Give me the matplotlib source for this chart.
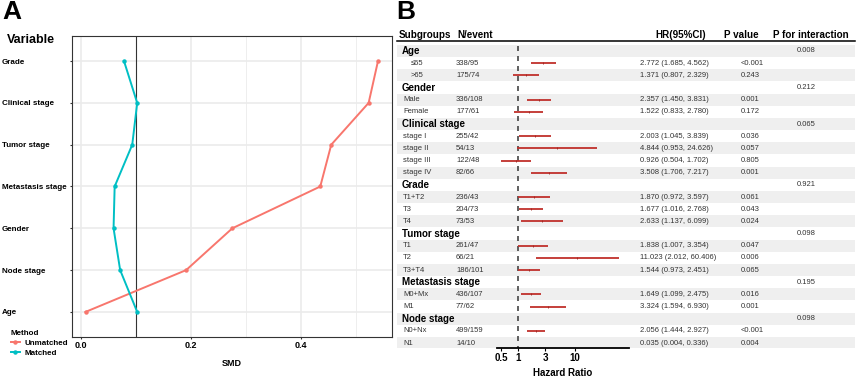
import matplotlib
matplotlib.use('Agg')
import matplotlib.pyplot as plt
from matplotlib.lines import Line2D
import numpy as np

plt.rcParams['font.family'] = ['Liberation Sans', 'DejaVu Sans']

# ---------------- Panel A data ----------------
variables = ['Age', 'Node stage', 'Gender', 'Metastasis stage',
             'Tumor stage', 'Clinical stage', 'Grade']
smd_unmatched = [0.008, 0.191, 0.275, 0.435, 0.455, 0.523, 0.540]
smd_matched = [0.102, 0.071, 0.059, 0.061, 0.093, 0.102, 0.078]
smd_ticks = [0.0, 0.2, 0.4]
smd_threshold = 0.1

# ---------------- Panel B data ----------------
subgroups = ['Age', '≤65', '>65', 'Gender', 'Male', 'Female',
             'Clinical stage', 'stage I', 'stage II', 'stage III', 'stage IV',
             'Grade', 'T1+T2', 'T3', 'T4',
             'Tumor stage', 'T1', 'T2', 'T3+T4',
             'Metastasis stage', 'M0+Mx', 'M1',
             'Node stage', 'N0+Nx', 'N1']
group_rows = ['Age', 'Gender', 'Clinical stage', 'Grade', 'Tumor stage',
              'Metastasis stage', 'Node stage']
n_event = ['', '338/95', '175/74', '', '336/108', '177/61',
           '', '255/42', '54/13', '122/48', '82/66',
           '', '236/43', '204/73', '73/53',
           '', '261/47', '66/21', '186/101',
           '', '436/107', '77/62',
           '', '499/159', '14/10']
nan = np.nan
hr = [nan, 2.772, 1.371, nan, 2.357, 1.522,
      nan, 2.003, 4.844, 0.926, 3.508,
      nan, 1.870, 1.677, 2.633,
      nan, 1.838, 11.023, 1.544,
      nan, 1.649, 3.324,
      nan, 2.056, 0.035]
hr_low = [nan, 1.685, 0.807, nan, 1.450, 0.833,
          nan, 1.045, 0.953, 0.504, 1.706,
          nan, 0.972, 1.016, 1.137,
          nan, 1.007, 2.012, 0.973,
          nan, 1.099, 1.594,
          nan, 1.444, 0.004]
hr_high = [nan, 4.562, 2.329, nan, 3.831, 2.780,
           nan, 3.839, 24.626, 1.702, 7.217,
           nan, 3.597, 2.768, 6.099,
           nan, 3.354, 60.406, 2.451,
           nan, 2.475, 6.930,
           nan, 2.927, 0.336]
p_value = ['', '<0.001', '0.243', '', '0.001', '0.172',
           '', '0.036', '0.057', '0.805', '0.001',
           '', '0.061', '0.043', '0.024',
           '', '0.047', '0.006', '0.065',
           '', '0.016', '0.001',
           '', '<0.001', '0.004']
p_interaction = ['0.008', '', '', '0.212', '', '',
                 '0.065', '', '', '', '',
                 '0.921', '', '', '',
                 '0.098', '', '', '',
                 '0.195', '', '',
                 '0.098', '', '']
hr_ticks = [0.5, 1, 3, 10]
hr_tick_labels = ['0.5', '1', '3', '10']
hr_ref = 1

W, H = 858, 378
fig = plt.figure(figsize=(W / 100, H / 100), dpi=100)


def fx(px):
    return px / W


def fy(py):
    return 1 - py / H


# ================= Panel A =================
col_un = '#F8766D'
col_m = '#00BFC4'
ax_a = fig.add_axes([fx(72), fy(337), fx(392) - fx(72), fy(36) - fy(337)])
ypos = np.arange(len(variables))
ax_a.set_xlim(-0.0166, 0.5655)
ax_a.set_ylim(-0.6, len(variables) - 0.4)
for v in [0.1, 0.3, 0.5]:
    ax_a.axvline(v, color='#EBEBEB', lw=0.6, zorder=0)
for v in smd_ticks:
    ax_a.axvline(v, color='#EBEBEB', lw=1.2, zorder=0)
for y in ypos:
    ax_a.axhline(y, color='#EBEBEB', lw=1.2, zorder=0)
ax_a.axvline(smd_threshold, color='#333333', lw=0.8, zorder=1)
ax_a.plot(smd_unmatched, ypos, color=col_un, lw=1.4, marker='o',
          ms=2.2, zorder=3)
ax_a.plot(smd_matched, ypos, color=col_m, lw=1.4, marker='o',
          ms=2.2, zorder=3)
ax_a.set_xticks(smd_ticks)
ax_a.set_xticklabels(['%.1f' % t for t in smd_ticks], fontweight='bold',
                     fontsize=6.5)
ax_a.set_yticks(ypos)
ax_a.set_yticklabels(variables, fontweight='bold', fontsize=5.8, ha='left')
ax_a.tick_params(axis='y', length=1.5, pad=49, color='#333333')
ax_a.tick_params(axis='x', length=1.5, pad=1.5, color='#333333')
for s in ax_a.spines.values():
    s.set_color('#333333')
    s.set_linewidth(0.8)
ax_a.set_xlabel('SMD', fontweight='bold', fontsize=6.5, labelpad=6)

fig.text(fx(7), fy(40), 'Variable', fontweight='bold', fontsize=9,
         va='center', ha='left')
fig.text(fx(2), fy(12), 'A', fontweight='bold', fontsize=19,
         va='center', ha='left')

handles = [Line2D([0], [0], color=col_un, lw=1.4, marker='o', ms=2.2),
           Line2D([0], [0], color=col_m, lw=1.4, marker='o', ms=2.2)]
leg = fig.legend(handles, ['Unmatched', 'Matched'], title='Method',
                 loc='upper left', bbox_to_anchor=(fx(5), fy(324)),
                 frameon=False, prop={'weight': 'bold', 'size': 5.8},
                 title_fontproperties={'weight': 'bold', 'size': 5.8},
                 handlelength=1.2, handletextpad=0.5, labelspacing=0.3,
                 borderpad=0.2)
leg._legend_box.align = 'left'

# ================= Panel B =================
fig.text(fx(396), fy(12), 'B', fontweight='bold', fontsize=19,
         va='center', ha='left')

row_h = 12.17
top_px, bot_px = 28, 348
y_top = (top_px - 51) / row_h
y_bot = (bot_px - 51) / row_h
rect = [fx(393), fy(bot_px), fx(858) - fx(393), fy(top_px) - fy(bot_px)]
ax_b = fig.add_axes(rect)
ax_b.set_xlim(393, 858)
ax_b.set_ylim(y_bot, y_top)
ax_b.axis('off')

nrows = len(subgroups)
for i in range(nrows):
    if i % 2 == 0:
        ax_b.axhspan(i - 0.5, i + 0.5, xmin=(397 - 393) / 465,
                     xmax=(855 - 393) / 465, color='#EFEFEF', lw=0, zorder=0)

header_y = (35 - 51) / row_h
ax_b.axhline((41 - 51) / row_h, xmin=(397 - 393) / 465,
             xmax=(855 - 393) / 465, color='black', lw=1.1)
hdr_kw = dict(fontweight='bold', fontsize=7.1, va='center')
ax_b.text(399, header_y, 'Subgroups', ha='left', **hdr_kw)
ax_b.text(457, header_y, 'N/event', ha='left', **hdr_kw)
ax_b.text(706, header_y, 'HR(95%CI)', ha='right', **hdr_kw)
ax_b.text(724, header_y, 'P value', ha='left', **hdr_kw)
ax_b.text(773, header_y, 'P for interaction', ha='left', **hdr_kw)

txt_kw = dict(fontsize=5.5, va='center', color='#333333')
for i, name in enumerate(subgroups):
    if name in group_rows:
        ax_b.text(402, i, name, fontweight='bold', fontsize=7, va='center',
                  ha='left')
    else:
        x0 = 411 if name in ('≤65', '>65') else 403
        ax_b.text(x0, i, name, ha='left', **txt_kw)
    if n_event[i]:
        ax_b.text(456, i, n_event[i], ha='left', **txt_kw)
    if not np.isnan(hr[i]):
        ax_b.text(640, i, '%.3f (%.3f, %.3f)' % (hr[i], hr_low[i], hr_high[i]),
                  ha='left', **txt_kw)
    if p_value[i]:
        ax_b.text(741, i, p_value[i], ha='left', **txt_kw)
    if p_interaction[i]:
        ax_b.text(797, i, p_interaction[i], ha='left', **txt_kw)

# forest axis
ax_f = fig.add_axes([fx(497), fy(bot_px), fx(629) - fx(497),
                     fy(top_px) - fy(bot_px)])
ax_f.patch.set_visible(False)
ax_f.set_xscale('log')
ax_f.set_xlim(0.421, 89.6)
ax_f.set_ylim(y_bot, y_top)
rows = np.arange(nrows)
ax_f.vlines(hr_ref, -0.4, y_bot, color='#444444', lw=1.2,
            linestyles=(0, (3, 3)), zorder=2)
ax_f.hlines(rows, hr_low, hr_high, color='#C0302B', lw=1.3, zorder=3)
ax_f.plot(hr, rows, ls='none', marker='|', ms=2, mew=0.6, color='#9E2420',
          zorder=4)
for s in ['top', 'left', 'right']:
    ax_f.spines[s].set_visible(False)
ax_f.spines['bottom'].set_linewidth(1.3)
ax_f.set_yticks([])
ax_f.set_xticks(hr_ticks)
ax_f.set_xticklabels(hr_tick_labels, fontweight='bold', fontsize=7)
ax_f.xaxis.set_minor_locator(matplotlib.ticker.NullLocator())
ax_f.tick_params(axis='x', length=2, pad=1.5)
ax_f.set_xlabel('Hazard Ratio', fontweight='bold', fontsize=7, labelpad=4)

fig.savefig('out.png', dpi=100)
